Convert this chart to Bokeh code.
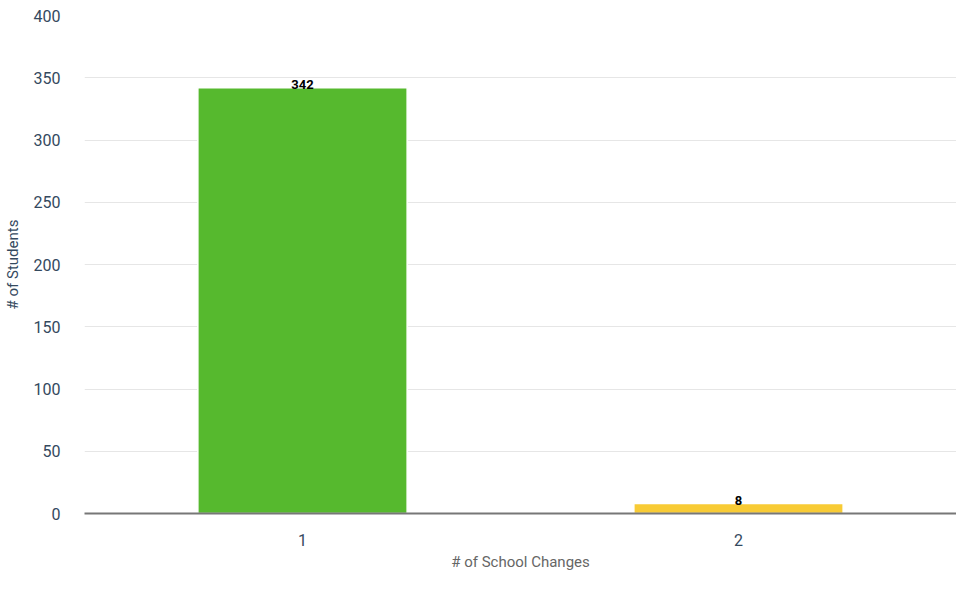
from bokeh.plotting import figure
from bokeh.models import ColumnDataSource, FactorRange, Range1d, LabelSet, SingleIntervalTicker
from bokeh.core.properties import value
from bokeh.embed import file_html
from bokeh.resources import INLINE

categories = ["1", "2"]
students = [342, 8]
colors = ["#56b92e", "#f8cb35"]

src = ColumnDataSource(dict(cat=categories, val=students, color=colors,
                            lbl=[str(v) for v in students]))

p = figure(width=956, height=573, x_range=FactorRange(*categories, range_padding=0),
           y_range=Range1d(0, 400), output_backend="svg", toolbar_location=None,
           min_border_left=84, min_border_right=0, min_border_top=15, min_border_bottom=59)
p.outline_line_color = None

p.vbar(x="cat", top="val", width=0.48, color="color", line_color="white", line_width=1.5, source=src)

labels = LabelSet(x="cat", y="val", text="lbl", source=src, text_align="center",
                  text_baseline="bottom", y_offset=-1, text_font_size="13px",
                  text_font_style="bold", text_color="black", text_font=value("Roboto"))
p.add_layout(labels)

p.yaxis.ticker = SingleIntervalTicker(interval=50)
p.ygrid.grid_line_color = "#e6e6e6"
p.ygrid.grid_line_width = 1
p.xgrid.grid_line_color = None

for ax in (p.xaxis[0], p.yaxis[0]):
    ax.major_tick_line_color = None
    ax.minor_tick_line_color = None
    ax.major_tick_out = 0
    ax.major_tick_in = 0
    ax.major_label_text_font = "Roboto"
    ax.major_label_text_font_size = "16px"
    ax.major_label_text_color = "#34495e"
    ax.axis_label_text_font = "Roboto"
    ax.axis_label_text_font_size = "15px"
    ax.axis_label_text_font_style = "normal"
    ax.axis_label_text_color = "#34495e"

p.yaxis.axis_line_color = None
p.yaxis.major_label_standoff = 20
p.yaxis.axis_label = "# of Students"
p.yaxis.axis_label_standoff = 9

p.xaxis.axis_line_color = "#777777"
p.xaxis.axis_line_width = 2
p.xaxis.major_label_standoff = 20
p.xaxis.axis_label = "# of School Changes"
p.xaxis.axis_label_standoff = 4
p.xaxis.axis_label_text_color = "#666666"

open("out.html", "w").write(file_html(p, INLINE))
